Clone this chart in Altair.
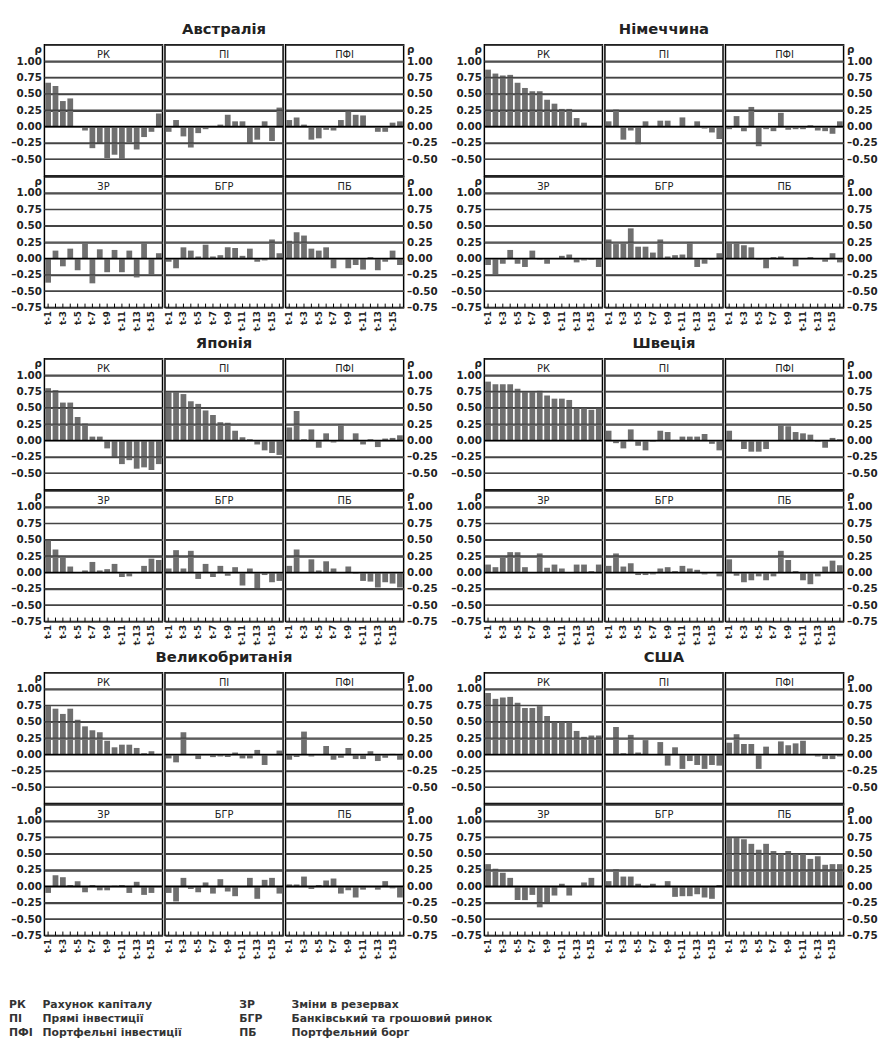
import altair as alt
import pandas as pd

LAGS = list(range(1, 17))
VARS_TOP = ['РК', 'ПІ', 'ПФІ']
VARS_BOTTOM = ['ЗР', 'БГР', 'ПБ']

australia = {
    'РК': [0.67, 0.62, 0.39, 0.43, 0.01, -0.06, -0.33, -0.25, -0.48, -0.43, -0.49, -0.24, -0.35, -0.16, -0.08, 0.20],
    'ПІ': [-0.08, 0.10, -0.15, -0.32, -0.10, -0.04, 0.01, 0.03, 0.18, 0.08, 0.08, -0.25, -0.20, 0.08, -0.22, 0.29],
    'ПФІ': [0.10, 0.14, 0.03, -0.20, -0.18, -0.05, -0.06, 0.10, 0.23, 0.18, 0.17, 0.00, -0.08, -0.08, 0.06, 0.08],
    'ЗР': [-0.37, 0.12, -0.12, 0.15, -0.18, 0.24, -0.38, 0.14, -0.21, 0.13, -0.21, 0.12, -0.29, 0.24, -0.24, 0.08],
    'БГР': [-0.05, -0.15, 0.17, 0.12, 0.03, 0.21, 0.03, 0.05, 0.17, 0.16, 0.04, 0.15, -0.05, -0.03, 0.29, 0.08],
    'ПБ': [0.27, 0.40, 0.35, 0.15, 0.12, 0.17, -0.15, 0.00, -0.15, -0.10, -0.17, 0.02, -0.18, -0.05, 0.12, -0.10],
}
germany = {
    'РК': [0.87, 0.81, 0.78, 0.79, 0.67, 0.59, 0.54, 0.54, 0.41, 0.35, 0.27, 0.27, 0.13, 0.06, -0.02, -0.01],
    'ПІ': [0.08, 0.26, -0.20, -0.06, -0.27, 0.08, 0.01, 0.09, 0.09, 0.00, 0.14, -0.02, 0.08, -0.03, -0.09, -0.19],
    'ПФІ': [-0.04, 0.16, -0.07, 0.30, -0.30, -0.04, -0.07, 0.21, -0.05, -0.04, -0.04, 0.02, -0.06, -0.07, -0.11, 0.08],
    'ЗР': [-0.10, -0.24, -0.08, 0.13, -0.08, -0.13, 0.12, -0.02, -0.08, 0.00, 0.04, 0.06, -0.06, -0.03, -0.02, -0.13],
    'БГР': [0.29, 0.22, 0.24, 0.46, 0.18, 0.18, 0.09, 0.29, 0.03, 0.05, 0.06, 0.25, -0.13, -0.08, -0.02, 0.08],
    'ПБ': [0.24, 0.25, 0.20, 0.17, -0.02, -0.15, 0.02, 0.03, -0.01, -0.12, -0.01, 0.02, 0.00, -0.05, 0.08, -0.06],
}
japan = {
    'РК': [0.80, 0.77, 0.58, 0.58, 0.36, 0.26, 0.06, 0.06, -0.12, -0.25, -0.36, -0.30, -0.43, -0.41, -0.45, -0.36],
    'ПІ': [0.74, 0.74, 0.71, 0.60, 0.56, 0.46, 0.39, 0.28, 0.27, 0.15, 0.05, 0.02, -0.06, -0.15, -0.19, -0.22],
    'ПФІ': [0.20, 0.45, 0.02, 0.17, -0.11, 0.11, -0.03, 0.25, 0.01, 0.11, -0.06, 0.02, -0.10, 0.03, 0.04, 0.08],
    'ЗР': [0.50, 0.35, 0.25, 0.09, 0.00, 0.03, 0.16, 0.03, 0.05, 0.13, -0.07, -0.06, 0.00, 0.10, 0.21, 0.19],
    'БГР': [0.06, 0.34, 0.06, 0.33, -0.10, 0.13, -0.07, 0.10, -0.05, 0.08, -0.20, 0.06, -0.25, -0.04, -0.15, -0.13],
    'ПБ': [0.10, 0.35, 0.00, 0.20, 0.03, 0.17, 0.06, 0.00, 0.09, -0.02, -0.13, -0.14, -0.23, -0.15, -0.17, -0.23],
}
sweden = {
    'РК': [0.90, 0.86, 0.86, 0.86, 0.79, 0.75, 0.75, 0.76, 0.69, 0.64, 0.64, 0.62, 0.51, 0.51, 0.47, 0.49],
    'ПІ': [0.15, -0.04, -0.12, 0.17, -0.08, -0.15, -0.02, 0.15, 0.13, 0.01, 0.06, 0.06, 0.06, 0.10, -0.05, -0.15],
    'ПФІ': [0.15, 0.01, -0.13, -0.17, -0.17, -0.13, 0.00, 0.24, 0.22, 0.13, 0.11, 0.09, -0.02, -0.11, 0.04, 0.02],
    'ЗР': [0.12, 0.08, 0.22, 0.31, 0.31, 0.08, 0.00, 0.29, 0.07, 0.12, 0.06, 0.00, 0.12, 0.12, 0.02, 0.12],
    'БГР': [0.10, 0.29, 0.09, 0.14, -0.04, -0.04, -0.03, 0.06, 0.08, 0.02, 0.10, 0.06, 0.04, -0.03, 0.00, -0.06],
    'ПБ': [0.20, -0.05, -0.15, -0.12, -0.06, -0.12, -0.06, 0.33, 0.19, 0.02, -0.12, -0.18, -0.06, 0.09, 0.18, 0.11],
}
uk = {
    'РК': [0.75, 0.70, 0.62, 0.70, 0.53, 0.43, 0.37, 0.34, 0.21, 0.11, 0.15, 0.15, 0.10, 0.02, 0.05, 0.01],
    'ПІ': [-0.06, -0.12, 0.34, 0.00, -0.07, 0.00, -0.04, -0.03, -0.04, 0.03, -0.06, -0.06, 0.07, -0.16, 0.00, 0.06],
    'ПФІ': [-0.08, -0.04, 0.35, -0.03, 0.00, 0.13, -0.08, -0.05, 0.10, -0.07, -0.07, 0.05, -0.10, -0.05, 0.01, -0.08],
    'ЗР': [-0.10, 0.17, 0.14, 0.02, 0.08, -0.09, 0.02, -0.06, -0.06, 0.01, 0.02, -0.10, 0.07, -0.13, -0.10, 0.00],
    'БГР': [-0.10, -0.23, 0.13, -0.04, -0.09, 0.06, -0.11, 0.11, -0.08, -0.15, 0.00, 0.13, -0.19, 0.10, 0.13, -0.11],
    'ПБ': [0.03, 0.03, 0.15, -0.04, 0.02, 0.09, 0.12, -0.11, -0.06, -0.17, -0.05, 0.00, -0.05, 0.08, -0.03, -0.17],
}
usa = {
    'РК': [0.94, 0.85, 0.87, 0.88, 0.79, 0.71, 0.71, 0.74, 0.59, 0.50, 0.50, 0.50, 0.36, 0.27, 0.29, 0.29],
    'ПІ': [0.01, 0.42, 0.02, 0.30, 0.03, 0.22, 0.00, 0.19, -0.17, 0.11, -0.22, -0.10, -0.16, -0.22, -0.16, -0.17],
    'ПФІ': [0.18, 0.31, 0.16, 0.16, -0.22, 0.12, 0.00, 0.20, 0.14, 0.17, 0.21, 0.00, -0.03, -0.07, -0.07, -0.03],
    'ЗР': [0.34, 0.27, 0.21, 0.13, -0.21, -0.21, -0.13, -0.32, -0.25, -0.14, 0.04, -0.14, -0.01, 0.06, 0.13, 0.00],
    'БГР': [0.08, 0.26, 0.15, 0.15, 0.04, -0.02, 0.04, 0.00, 0.08, -0.16, -0.15, -0.15, -0.12, -0.17, -0.19, 0.02],
    'ПБ': [0.75, 0.75, 0.72, 0.65, 0.56, 0.65, 0.54, 0.50, 0.54, 0.51, 0.50, 0.42, 0.46, 0.33, 0.34, 0.34],
}

COUNTRIES = [('Австралія', australia), ('Німеччина', germany),
             ('Японія', japan), ('Швеція', sweden),
             ('Великобританія', uk), ('США', usa)]

legend_abbr = ['РК', 'ПІ', 'ПФІ', 'ЗР', 'БГР', 'ПБ']
legend_desc = ['Рахунок капіталу', 'Прямі інвестиції', 'Портфельні інвестиції',
               'Зміни в резервах', 'Банківський та грошовий ринок', 'Портфельний борг']
legend_col = [0, 0, 0, 1, 1, 1]
legend_row = [0, 1, 2, 0, 1, 2]

Y_TICKS = [-0.75, -0.5, -0.25, 0.0, 0.25, 0.5, 0.75, 1.0, 1.25]
GRID_LINES = [-0.5, -0.25, 0.25, 0.5, 0.75, 1.0]
FONT = 'DejaVu Sans'
BAR = '#6f6f6f'
GRID = '#444444'
PW, PH = 120, 133
GAP = -1.5
AXIS_W = 36


def y_label_expr(top_row):
    hide = "datum.value < -0.7 ? '' : " if top_row else ""
    return ("datum.value > 1.2 ? 'ρ' : " + hide +
            "(datum.value < 0 ? '–' : '') + format(abs(datum.value), '.2f')")


def y_axis(col, top_row):
    common = dict(values=Y_TICKS, tickCount=40, grid=True, gridColor=GRID,
                  gridWidth=1.4, ticks=False, domain=False, title=None)
    if col == 1:
        return alt.Axis(labels=False, **common)
    return alt.Axis(orient='left' if col == 0 else 'right',
                    labelExpr=y_label_expr(top_row), labelPadding=3,
                    labelFont=FONT, labelFontSize=10.5, labelFontWeight='bold',
                    labelColor='#222',
                    labelBaseline={'condition': {'test': 'datum.value > 1.2', 'value': 'top'},
                                   'value': 'middle'},
                    minExtent=AXIS_W, maxExtent=AXIS_W, **common)


X_AXIS = alt.Axis(labelExpr="datum.value % 2 == 1 ? 't-' + datum.value : ''",
                  labelAngle=-90, labelFont=FONT, labelFontSize=9,
                  labelFontWeight='bold', labelColor='#222', labelPadding=3,
                  labelOverlap=False, ticks=False, domain=False, grid=False,
                  title=None)


def panel(values, var, col, top_row):
    df = pd.DataFrame({'lag': LAGS, 'rho': values})
    base = alt.Chart(df)
    one = base.transform_aggregate(n='count()')
    x = alt.X('lag:O', scale=alt.Scale(paddingInner=0.22, paddingOuter=0.11),
              axis=None if top_row else X_AXIS)
    y = alt.Y('rho:Q', scale=alt.Scale(domain=[-0.75, 1.25], nice=False, zero=False),
              axis=y_axis(col, top_row))
    layers = [base.mark_bar(color=BAR).encode(x=x, y=y, y2=alt.datum(0))]
    for g in GRID_LINES:
        layers.append(one.mark_rule(color=GRID, strokeWidth=1.4).encode(y=alt.datum(g)))
    layers.append(one.mark_rule(color='black', strokeWidth=1.6).encode(y=alt.datum(0)))
    layers.append(one.mark_text(font=FONT, fontSize=10, baseline='bottom',
                                color='#222').encode(y=alt.datum(1.015), text=alt.value(var)))
    if not top_row:
        layers.append(base.mark_rule(color='black', strokeWidth=1).encode(
            x=x, y=alt.datum(-0.75), y2=alt.datum(-0.69)))
    return alt.layer(*layers).properties(width=PW, height=PH)


def block(name, data):
    top = alt.hconcat(*[panel(data[v], v, i, True) for i, v in enumerate(VARS_TOP)],
                      spacing=GAP)
    bot = alt.hconcat(*[panel(data[v], v, i, False) for i, v in enumerate(VARS_BOTTOM)],
                      spacing=GAP)
    return alt.vconcat(top, bot, spacing=GAP,
                       title=alt.TitleParams(name, font=FONT, fontSize=15, fontWeight='bold',
                                             anchor='middle', offset=7, color='#222'))


legend_df = pd.DataFrame({'abbr': legend_abbr, 'desc': legend_desc,
                          'col': legend_col, 'row': legend_row})
lbase = alt.Chart(legend_df)
lx = alt.X('col:Q', axis=None, scale=alt.Scale(domain=[0, 1], range=[0, 234]))
ly = alt.Y('row:O', axis=None, scale=alt.Scale(paddingInner=0, paddingOuter=0))
ltext = dict(align='left', font=FONT, fontSize=11, fontWeight='bold', color='#333')
legend = alt.layer(
    lbase.mark_text(dx=-AXIS_W, **ltext).encode(x=lx, y=ly, text='abbr:N'),
    lbase.transform_filter('datum.col == 0').mark_text(dx=-AXIS_W + 34, **ltext).encode(
        x=lx, y=ly, text='desc:N'),
    lbase.transform_filter('datum.col == 1').mark_text(dx=-AXIS_W + 53, **ltext).encode(
        x=lx, y=ly, text='desc:N'),
).properties(width=520, height=42, view=alt.ViewBackground(stroke='transparent'))

rows = []
for i in range(0, 6, 2):
    rows.append(alt.hconcat(block(*COUNTRIES[i]), block(*COUNTRIES[i + 1]), spacing=8))
blocks = alt.vconcat(*rows, spacing=4)

chart = alt.vconcat(blocks, legend, spacing=38).properties(
    padding={'left': 0, 'top': 6, 'right': 0, 'bottom': 0}
).configure_view(stroke='black', strokeWidth=1.5)

chart.save('out.html', embed_options={'renderer': 'svg', 'actions': False})
